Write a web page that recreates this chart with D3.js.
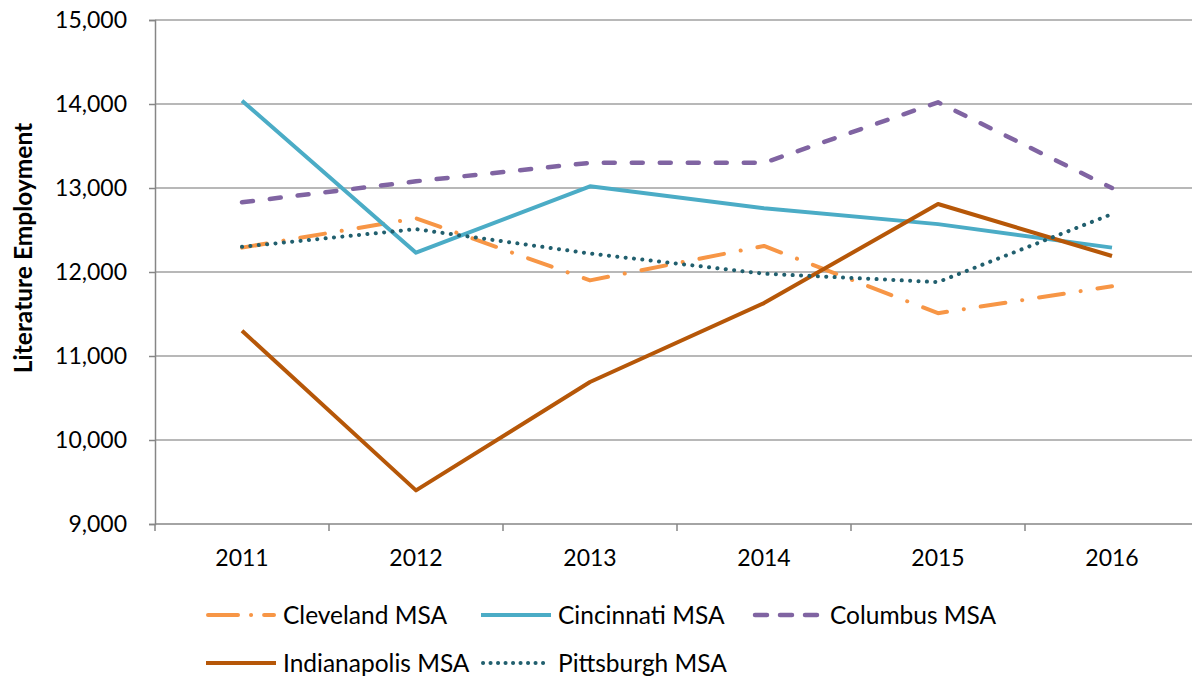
<!DOCTYPE html>
<html>
<head>
<meta charset="utf-8">
<script src="https://cdn.jsdelivr.net/npm/d3@7"></script>
<style>
  body { margin: 0; background: #fff; }
  svg { display: block; font-family: Lato, "Open Sans", sans-serif; }
</style>
</head>
<body>
<svg width="1192" height="677"></svg>
<script>
// data
const years = ["2011", "2012", "2013", "2014", "2015", "2016"];
const cleveland    = [12290, 12640, 11900, 12310, 11510, 11830];
const cincinnati   = [14040, 12230, 13020, 12760, 12570, 12290];
const columbus     = [12830, 13080, 13300, 13300, 14020, 13000];
const indianapolis = [11300, 9400, 10690, 11630, 12810, 12190];
const pittsburgh   = [12300, 12510, 12220, 11980, 11880, 12690];
const yTicks = [9000, 10000, 11000, 12000, 13000, 14000, 15000];

const series = [
  {name: "Cleveland MSA", values: cleveland, color: "#F79646", width: 4, dash: "25,17,0.1,17", legendDash: "30,13,0.1,13", cap: "round"},
  {name: "Cincinnati MSA", values: cincinnati, color: "#4BACC6", width: 4, dash: null, legendDash: null, cap: "butt"},
  {name: "Columbus MSA", values: columbus, color: "#8064A2", width: 4.5, dash: "11,17", legendDash: "12,13", cap: "round"},
  {name: "Indianapolis MSA", values: indianapolis, color: "#B65708", width: 4, dash: null, legendDash: null, cap: "butt"},
  {name: "Pittsburgh MSA", values: pittsburgh, color: "#215F6E", width: 4, dash: "0.1,8.3", legendDash: "0.1,7.4", cap: "round"}
];

const svg = d3.select("svg");
const plotLeft = 155, plotRight = 1199, plotTop = 20, plotBottom = 524;

const x = d3.scaleBand().domain(years).range([plotLeft, plotRight]);
const y = d3.scaleLinear().domain([9000, 15000]).range([plotBottom, plotTop]);

// gridlines
svg.append("g")
  .selectAll("line")
  .data(yTicks.slice(1))
  .enter().append("line")
  .attr("x1", plotLeft).attr("x2", plotRight)
  .attr("y1", d => y(d)).attr("y2", d => y(d))
  .style("stroke", "#A0A0A0")
  .style("stroke-width", 1.5);

// y axis
const yAxis = svg.append("g")
  .attr("transform", `translate(${plotLeft},0)`)
  .call(d3.axisLeft(y).tickValues(yTicks).tickSize(6).tickPadding(22).tickFormat(d3.format(",")));
yAxis.select(".domain").style("stroke", "#868686").style("stroke-width", 1.5);
yAxis.selectAll(".tick line").style("stroke", "#868686").style("stroke-width", 1.5);
yAxis.selectAll("text")
  .attr("dy", "0.34em")
  .style("font-size", "23px").style("fill", "#000")
  .style("font-family", "Lato, 'Open Sans', sans-serif");

// x axis, ticks at category boundaries
const xAxis = svg.append("g")
  .attr("transform", `translate(0,${plotBottom})`);
xAxis.append("line")
  .attr("x1", plotLeft).attr("x2", plotRight)
  .style("stroke", "#868686").style("stroke-width", 1.5);
xAxis.selectAll(".bound")
  .data(d3.range(years.length + 1))
  .enter().append("line")
  .attr("x1", i => plotLeft + x.step() * i)
  .attr("x2", i => plotLeft + x.step() * i)
  .attr("y1", 0).attr("y2", 7)
  .style("stroke", "#868686").style("stroke-width", 1.5);
xAxis.selectAll("text")
  .data(years)
  .enter().append("text")
  .attr("x", d => x(d) + x.bandwidth() / 2)
  .attr("y", 42)
  .attr("text-anchor", "middle")
  .style("font-size", "23px")
  .text(d => d);

// y title
svg.append("text")
  .attr("transform", "translate(32,248) rotate(-90)")
  .attr("text-anchor", "middle")
  .style("font-size", "24.5px")
  .style("font-weight", "bold")
  .text("Literature Employment");

// lines
const line = d3.line()
  .x((d, i) => x(years[i]) + x.bandwidth() / 2)
  .y(d => y(d));

svg.append("g")
  .selectAll("path")
  .data(series)
  .enter().append("path")
  .attr("d", d => line(d.values))
  .style("fill", "none")
  .style("stroke", d => d.color)
  .style("stroke-width", d => d.width)
  .style("stroke-dasharray", d => d.dash)
  .style("stroke-linecap", d => d.cap)
  .style("stroke-linejoin", "round");

// legend
const legendPos = [
  {x: 206, y: 615}, {x: 481, y: 615}, {x: 753, y: 615},
  {x: 206, y: 663}, {x: 481, y: 663}
];
const legend = svg.append("g")
  .selectAll("g")
  .data(series)
  .enter().append("g")
  .attr("transform", (d, i) => `translate(${legendPos[i].x},${legendPos[i].y})`);
legend.append("line")
  .attr("x1", d => d.cap === "round" ? 2 : 0)
  .attr("x2", d => d.cap === "round" ? 68 : 70)
  .style("stroke", d => d.color)
  .style("stroke-width", d => d.width)
  .style("stroke-dasharray", d => d.legendDash)
  .style("stroke-linecap", d => d.cap);
legend.append("text")
  .attr("x", 77)
  .attr("y", 8.5)
  .style("font-size", "24.5px")
  .text(d => d.name);
</script>
</body>
</html>
